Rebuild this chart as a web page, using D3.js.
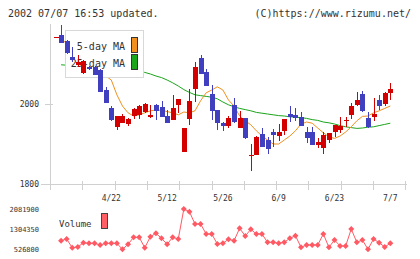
<!DOCTYPE html>
<html>
<head>
<meta charset="utf-8">
<script src="https://cdn.jsdelivr.net/npm/d3@7"></script>
<style>
  body { margin: 0; background: #fff; }
  svg text { font-family: "DejaVu Sans Mono", monospace; fill: #333; }
</style>
</head>
<body>
<div id="chart"></div>
<script>
'use strict';

// daily candles: open, high, low, close
var opens  = [2168, 2173, 2158, 2118, 2098, 2078, 2093, 2093, 2085, 2035, 1989, 1942, 1953, 1950, 1970, 1973, 1981, 1968, 1998, 1993, 1970, 1960, 1998, 1881, 1962, 2037, 2116, 2081, 2025, 1985, 1953, 1945, 1998, 1941, 1966, 1873, 1873, 1925, 1910, 1930, 1920, 1933, 1975, 1973, 1967, 1930, 1930, 1898, 1891, 1910, 1931, 1935, 1960, 1973, 1998, 2025, 1966, 1968, 2010, 2000, 2028];
var highs  = [2168, 2198, 2160, 2142, 2123, 2110, 2095, 2095, 2087, 2043, 1995, 1970, 1975, 1965, 1990, 1998, 2003, 1998, 1999, 2008, 1985, 2023, 2013, 1940, 2037, 2106, 2123, 2087, 2048, 1985, 1956, 1970, 2015, 1983, 1966, 1900, 1920, 1941, 1918, 1938, 1950, 1963, 1995, 1990, 1980, 1943, 1943, 1914, 1931, 1928, 1948, 1968, 1968, 2002, 2030, 2033, 1979, 2015, 2023, 2029, 2053];
var lows   = [2168, 2152, 2126, 2106, 2093, 2076, 2086, 2072, 2030, 2003, 1958, 1935, 1952, 1945, 1963, 1962, 1978, 1964, 1960, 1967, 1952, 1960, 1977, 1880, 1948, 2006, 2075, 2045, 1960, 1935, 1933, 1941, 1952, 1940, 1913, 1833, 1872, 1892, 1875, 1893, 1908, 1923, 1956, 1958, 1945, 1903, 1897, 1891, 1875, 1903, 1918, 1927, 1942, 1963, 1995, 1981, 1941, 1958, 1985, 1995, 2010];
var closes = [2168, 2153, 2128, 2110, 2106, 2108, 2088, 2073, 2031, 2003, 1960, 1970, 1970, 1963, 1988, 1995, 2000, 1973, 1983, 1968, 1953, 1990, 2013, 1939, 2008, 2093, 2075, 2045, 1983, 1953, 1945, 1966, 1956, 1966, 1914, 1873, 1917, 1893, 1888, 1923, 1930, 1963, 1968, 1966, 1945, 1916, 1898, 1905, 1923, 1927, 1947, 1945, 1960, 1995, 2010, 1983, 1942, 1975, 1995, 2028, 2038];

// moving averages (start with the second candle)
var ma5  = [2165, 2150, 2135, 2122, 2115, 2105, 2095, 2085, 2070, 2060, 2023, 1995, 1978, 1970, 1973, 1978, 1983, 1985, 1984, 1981, 1978, 1973, 1980, 1978, 1983, 2008, 2028, 2035, 2043, 2035, 2010, 1995, 1970, 1958, 1948, 1933, 1920, 1910, 1900, 1900, 1910, 1920, 1933, 1950, 1955, 1952, 1940, 1928, 1918, 1914, 1920, 1930, 1943, 1958, 1969, 1970, 1978, 1983, 1989, 1995];
var ma25 = [2098, 2097, 2096, 2095, 2094, 2093, 2092, 2091, 2090, 2089, 2088, 2087, 2085, 2083, 2081, 2079, 2075, 2070, 2066, 2060, 2053, 2045, 2036, 2029, 2023, 2021, 2019, 2017, 2013, 2005, 1998, 1993, 1989, 1986, 1983, 1979, 1977, 1975, 1973, 1971, 1970, 1968, 1967, 1966, 1964, 1961, 1959, 1955, 1953, 1950, 1946, 1943, 1941, 1939, 1940, 1942, 1943, 1946, 1949, 1952];

// volume starts with the second candle
var volumes = [849000, 915000, 577000, 604000, 772000, 748000, 748000, 682000, 748000, 748000, 748000, 515000, 710000, 981000, 981000, 577000, 1005000, 1137000, 942000, 710000, 981000, 915000, 2081900, 1977000, 1499000, 1499000, 1110000, 1110000, 721000, 748000, 903000, 849000, 1331000, 1032000, 1292000, 1110000, 1110000, 787000, 787000, 748000, 787000, 942000, 1044000, 593000, 682000, 682000, 682000, 1110000, 593000, 877000, 643000, 643000, 1304000, 787000, 877000, 515000, 915000, 772000, 604000, 748000];

var dateLabels = ['4/22', '5/12', '5/26', '6/9', '6/23', '7/7'];
var dateIndex  = [10, 20, 30, 40, 50, 60];
var priceTicks = [1800, 2000];
var volumeTicks = [526800, 1304350, 2081900];

var width = 420, height = 259;
var blue = '#3f3fbf', red = '#d40000';

var svg = d3.select('#chart')
    .append('svg')
    .attr('width', width)
    .attr('height', height);

var x = d3.scaleLinear().domain([0, 60]).range([55.5, 390.3]);
var y = d3.scaleLinear().domain([1800, 2200]).range([184, 24]);
var yVol = d3.scaleLinear().domain([526800, 2081900]).range([249, 209]);
var grid = d3.scaleLinear().domain([0, 11]).range([50, 405.3]);

function px(v) { return Math.round(v) + 0.5; }

// header
svg.append('text').attr('x', 8).attr('y', 17).attr('font-size', 10)
    .text('2002 07/07 16:53 updated.');
svg.append('text').attr('x', 411).attr('y', 17).attr('font-size', 10)
    .attr('text-anchor', 'end').text('(C)https://www.rizumu.net/');

// axes
var axes = svg.append('g').attr('stroke', '#d0d0d0').attr('shape-rendering', 'crispEdges');
axes.append('line').attr('x1', 50.5).attr('x2', 50.5).attr('y1', 24).attr('y2', 190);
axes.append('line').attr('x1', 41).attr('x2', 407).attr('y1', px(y(1800))).attr('y2', px(y(1800)));
axes.append('line').attr('x1', 45).attr('x2', 53).attr('y1', px(y(2000))).attr('y2', px(y(2000)));
axes.selectAll('.grid')
    .data(d3.range(12))
    .enter()
    .append('line')
    .attr('x1', function (d) { return px(grid(d)); })
    .attr('x2', function (d) { return px(grid(d)); })
    .attr('y1', 181)
    .attr('y2', 190);

svg.selectAll('.ptick')
    .data(priceTicks)
    .enter()
    .append('text')
    .attr('x', 39)
    .attr('y', function (d) { return y(d) + 3; })
    .attr('text-anchor', 'end')
    .attr('font-size', 8)
    .text(function (d) { return d; });

svg.selectAll('.dlabel')
    .data(dateLabels)
    .enter()
    .append('text')
    .attr('x', function (d, i) { return x(dateIndex[i]); })
    .attr('y', 201)
    .attr('text-anchor', 'middle')
    .attr('font-size', 8)
    .text(function (d) { return d; });

// moving averages
function maLine(values) {
    return d3.line()
        .x(function (d, i) { return x(i + 1); })
        .y(function (d) { return y(d); })(values);
}
svg.append('path').attr('d', maLine(ma25)).attr('fill', 'none').attr('stroke', '#1aa51a').attr('stroke-width', 1);
svg.append('path').attr('d', maLine(ma5)).attr('fill', 'none').attr('stroke', '#f0901e').attr('stroke-width', 1);

// legend
var legend = svg.append('g');
legend.append('rect').attr('x', 65.5).attr('y', 30.5).attr('width', 78).attr('height', 47)
    .attr('fill', '#fff').attr('stroke', '#d8d8d8');
legend.append('text').attr('x', 125).attr('y', 50).attr('font-size', 10).attr('text-anchor', 'end').text('5-day MA');
legend.append('text').attr('x', 125).attr('y', 67).attr('font-size', 10).attr('text-anchor', 'end').text('25-day MA');
legend.append('rect').attr('x', 131.5).attr('y', 37.5).attr('width', 6).attr('height', 15)
    .attr('fill', '#f0901e').attr('stroke', '#333');
legend.append('rect').attr('x', 131.5).attr('y', 54.5).attr('width', 6).attr('height', 15)
    .attr('fill', '#1aa51a').attr('stroke', '#333');

// candles
var candles = svg.selectAll('.candle')
    .data(closes)
    .enter()
    .append('g')
    .attr('shape-rendering', 'crispEdges');

function color(i) { return closes[i] >= opens[i] ? red : blue; }

candles.append('line')
    .attr('x1', function (d, i) { return px(x(i)); })
    .attr('x2', function (d, i) { return px(x(i)); })
    .attr('y1', function (d, i) { return y(highs[i]); })
    .attr('y2', function (d, i) { return y(lows[i]); })
    .attr('stroke', function (d, i) { return color(i); });

candles.append('rect')
    .attr('x', function (d, i) { return Math.round(x(i)) - 2; })
    .attr('y', function (d, i) { return y(Math.max(opens[i], closes[i])); })
    .attr('width', 5)
    .attr('height', function (d, i) { return Math.max(1, Math.abs(y(opens[i]) - y(closes[i]))); })
    .attr('fill', function (d, i) { return color(i); });

// volume
svg.selectAll('.vtick')
    .data(volumeTicks)
    .enter()
    .append('text')
    .attr('x', 39)
    .attr('y', function (d) { return yVol(d) + 3; })
    .attr('text-anchor', 'end')
    .attr('font-size', 7)
    .text(function (d) { return d; });

svg.append('text').attr('x', 59).attr('y', 226.5).attr('font-size', 9).text('Volume');
svg.append('rect').attr('x', 101.5).attr('y', 213.5).attr('width', 6).attr('height', 15)
    .attr('fill', '#ff6066').attr('stroke', '#444');

var volColor = '#ff5a64';
svg.append('path')
    .attr('d', d3.line()
        .x(function (d, i) { return x(i + 1); })
        .y(function (d) { return yVol(d); })(volumes))
    .attr('fill', 'none')
    .attr('stroke', volColor);

svg.selectAll('.vdot')
    .data(volumes)
    .enter()
    .append('path')
    .attr('d', d3.symbol().type(d3.symbolSquare).size(18))
    .attr('transform', function (d, i) { return 'translate(' + x(i + 1) + ',' + yVol(d) + ') rotate(45)'; })
    .attr('fill', volColor);
</script>
</body>
</html>
